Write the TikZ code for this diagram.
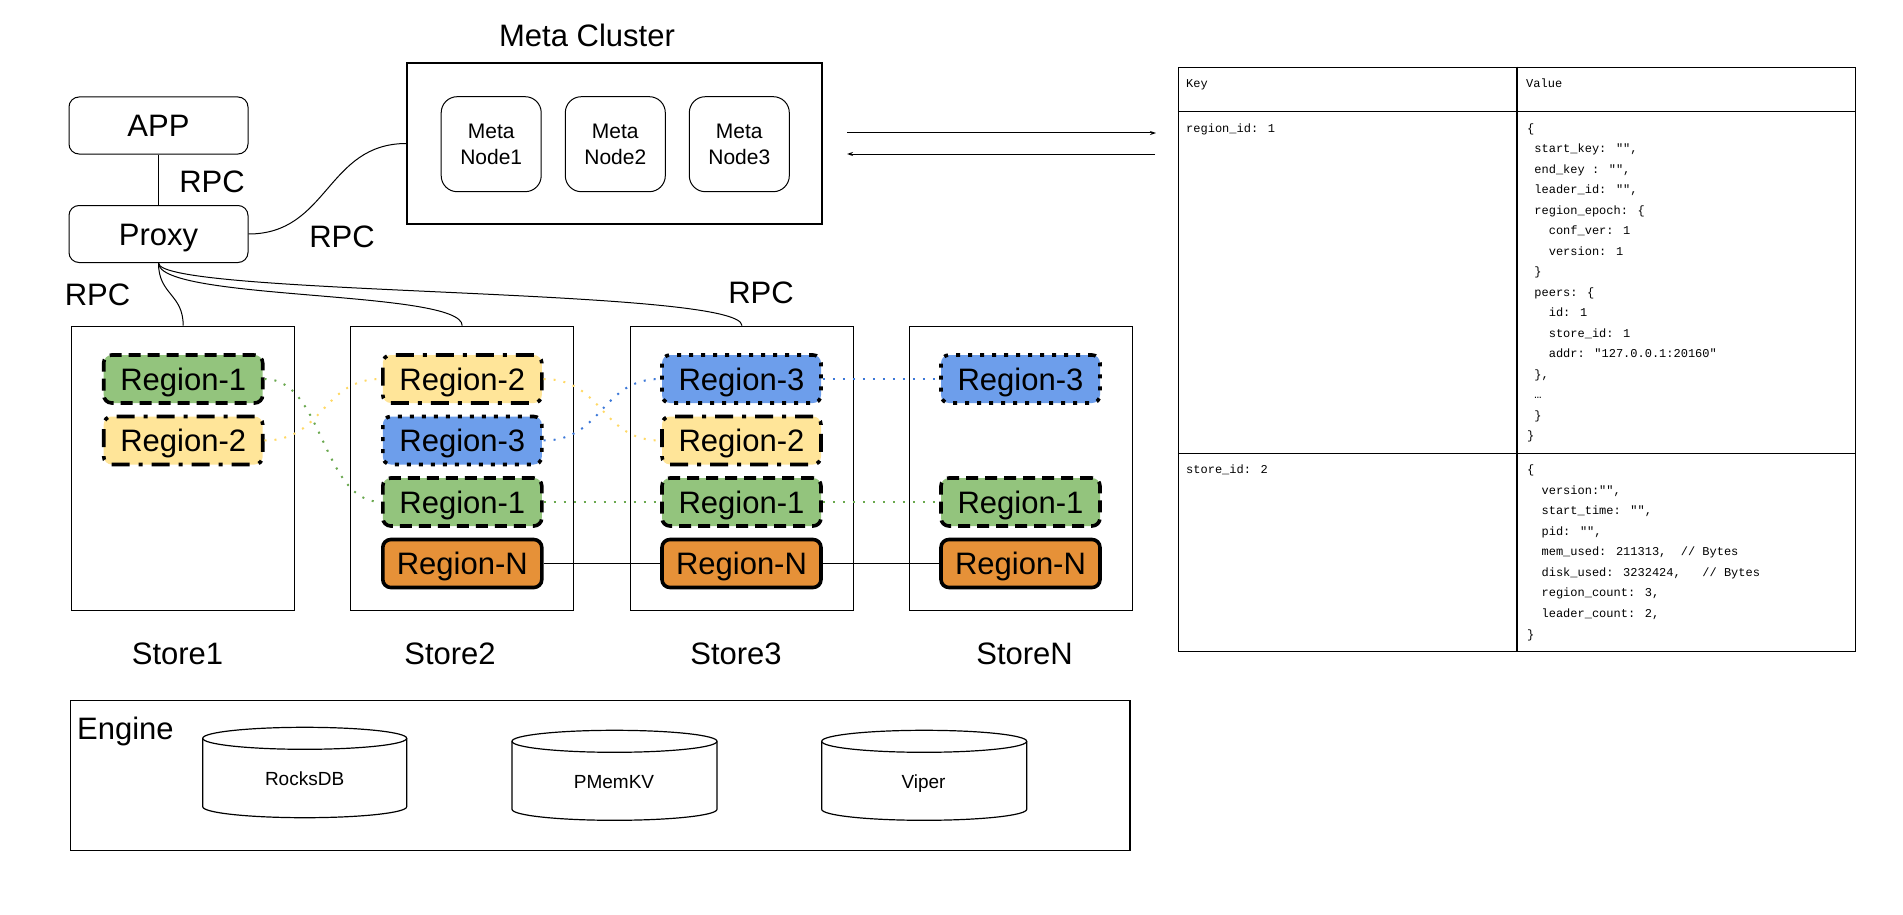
\documentclass[tikz,border=0pt]{standalone}
\usepackage{fontspec}
\setmainfont{Liberation Sans}
\newfontfamily\tblfont{Liberation Mono}
\usetikzlibrary{arrows.meta}
\definecolor{gfill}{HTML}{93C47D}
\definecolor{yfill}{HTML}{FFE599}
\definecolor{bfill}{HTML}{6D9EEB}
\definecolor{ofill}{HTML}{E69138}
\definecolor{gline}{HTML}{6AA84F}
\definecolor{yline}{HTML}{FFD966}
\definecolor{bline}{HTML}{3C78D8}
\newcommand\ind[1]{\hspace*{\dimexpr7.2pt*#1\relax}}
\begin{document}
\begin{tikzpicture}[x=1pt,y=-1pt,
  big/.style={font=\fontsize{31}{37}\selectfont},
  lbl/.style={big, inner sep=0pt},
  box/.style={draw, line width=1pt, rounded corners=10pt, minimum width=179pt, minimum height=57pt, inner sep=0pt, big, text height=22pt, text depth=0pt},
  plain/.style={draw, line width=1.1pt, inner sep=0pt},
  mnode/.style={draw, line width=1pt, rounded corners=16pt, minimum width=100pt, minimum height=95pt, inner sep=0pt, align=center, font=\fontsize{21}{26}\selectfont},
  conn/.style={draw, line width=1pt},
  reg/.style={draw=black, line width=3.6pt, rounded corners=8pt, minimum width=159pt, minimum height=48pt, inner sep=0pt, big, text height=22pt, text depth=0pt},
  rone/.style={reg, fill=gfill, dash pattern=on 12pt off 7pt},
  rtwo/.style={reg, fill=yfill, dash pattern=on 18pt off 9pt on 4pt off 9pt},
  rthree/.style={reg, fill=bfill, dash pattern=on 4pt off 8pt},
  rnn/.style={reg, fill=ofill},
  gdot/.style={draw=gline, line width=2pt, dash pattern=on 2pt off 8pt},
  ydot/.style={draw=yline, line width=2pt, dash pattern=on 2pt off 8pt},
  bdot/.style={draw=bline, line width=2pt, dash pattern=on 2pt off 8pt},
  cyl/.style={draw, line width=1.2pt},
  cyllbl/.style={inner sep=0pt, font=\fontsize{19}{23}\selectfont},
  tt/.style={inner sep=0pt, font=\tblfont\fontsize{12}{14}\selectfont},
  tline/.style={draw, line width=1.3pt}
]
\useasboundingbox (0,0) rectangle (1903,915);

% APP / Proxy
\node[box] (app) at (158.5,125.5) {APP};
\node[box] (proxy) at (158.5,234) {Proxy};
\draw[conn] (app) -- (proxy);
\node[lbl, anchor=base] (rpca) at (212,192) {RPC};
\node[lbl, anchor=base] (rpcb) at (342,247) {RPC};
\node[lbl, anchor=base] (rpcc) at (97.5,305) {RPC};
\node[lbl, anchor=base] (rpcd) at (761,303) {RPC};

% Meta cluster
\node[plain, minimum width=415pt, minimum height=161pt] (meta) at (614.5,143.5) {};
\node[lbl, anchor=base] (mtitle) at (587,46.5) {Meta Cluster};
\node[mnode] (m1) at (491.2,144.2) {Meta\\Node1};
\node[mnode] (m2) at (615.3,144.2) {Meta\\Node2};
\node[mnode] (m3) at (739.3,144.2) {Meta\\Node3};
\draw[conn] (proxy.east) .. controls +(80,0) and +(-80,0) .. (meta.west);

% arrows to table
\coordinate (aa) at (847,133);
\coordinate (ab) at (1156,133);
\coordinate (ac) at (1155,154);
\coordinate (ad) at (847,154);
\draw[conn, -{Stealth[length=6pt,width=4pt]}] (aa) -- (ab);
\draw[conn, -{Stealth[length=6pt,width=4pt]}] (ac) -- (ad);

% stores
\node[plain, minimum width=223pt, minimum height=284pt] (s1) at (183.2,468.2) {};
\node[plain, minimum width=223pt, minimum height=284pt] (s2) at (462.2,468.2) {};
\node[plain, minimum width=223pt, minimum height=284pt] (s3) at (742,468.2) {};
\node[plain, minimum width=223pt, minimum height=284pt] (sn) at (1021,468.2) {};
\node[lbl, anchor=base] (l1) at (177.5,664) {Store1};
\node[lbl, anchor=base] (l2) at (450,664) {Store2};
\node[lbl, anchor=base] (l3) at (736,664) {Store3};
\node[lbl, anchor=base] (ln) at (1024.6,664) {StoreN};

\draw[conn] (proxy.south) .. controls +(0,32) and +(0,-32) .. (s1.north);
\draw[conn] (proxy.south) .. controls +(0,38) and +(0,-36) .. (s2.north);
\draw[conn] (proxy.south) .. controls +(0,33) and +(0,-38) .. (s3.north);

% regions
\node[rone] (s1r1) at (183.2,379) {Region-1};
\node[rtwo] (s1r2) at (183.2,440.5) {Region-2};
\node[rtwo] (s2r2) at (462.3,379) {Region-2};
\node[rthree] (s2r3) at (462.3,440.5) {Region-3};
\node[rone] (s2r1) at (462.3,502) {Region-1};
\node[rnn] (s2rn) at (462.3,563.5) {Region-N};
\node[rthree] (s3r3) at (741.5,379) {Region-3};
\node[rtwo] (s3r2) at (741.5,440.5) {Region-2};
\node[rone] (s3r1) at (741.5,502) {Region-1};
\node[rnn] (s3rn) at (741.5,563.5) {Region-N};
\node[rthree] (snr3) at (1020.5,379) {Region-3};
\node[rone] (snr1) at (1020.5,502) {Region-1};
\node[rnn] (snrn) at (1020.5,563.5) {Region-N};

\draw[gdot] (s1r1.east) .. controls +(59,0) and +(-59,0) .. (s2r1.west);
\draw[gdot] (s2r1.east) -- (s3r1.west);
\draw[gdot] (s3r1.east) -- (snr1.west);
\draw[ydot] (s1r2.east) .. controls +(59,0) and +(-59,0) .. (s2r2.west);
\draw[ydot] (s2r2.east) .. controls +(59,0) and +(-59,0) .. (s3r2.west);
\draw[bdot] (s2r3.east) .. controls +(59,0) and +(-59,0) .. (s3r3.west);
\draw[bdot] (s3r3.east) -- (snr3.west);
\draw[conn] (s2rn.east) -- (s3rn.west);
\draw[conn] (s3rn.east) -- (snrn.west);

% engine
\node[plain, minimum width=1059.6pt, minimum height=150pt] (engine) at (600.2,775.3) {};
\node[lbl, anchor=base west] (englbl) at (77,739) {Engine};
\draw[cyl] (202.7,738.3) -- (202.7,806.7) arc[start angle=180, end angle=360, x radius=102pt, y radius=11pt] -- (406.7,738.3);
\draw[cyl] (304.7,738.3) ellipse[x radius=102pt, y radius=11pt];
\draw[cyl] (512,741.3) -- (512,809.3) arc[start angle=180, end angle=360, x radius=102.5pt, y radius=11pt] -- (717,741.3);
\draw[cyl] (614.5,741.3) ellipse[x radius=102.5pt, y radius=11pt];
\draw[cyl] (821.7,741.3) -- (821.7,809.3) arc[start angle=180, end angle=360, x radius=102.5pt, y radius=11pt] -- (1026.7,741.3);
\draw[cyl] (924.2,741.3) ellipse[x radius=102.5pt, y radius=11pt];
\node[cyllbl, anchor=base] (rocks) at (304.6,785.5) {RocksDB};
\node[cyllbl, anchor=base] (pmem) at (614,788) {PMemKV};
\node[cyllbl, anchor=base] (viper) at (923.5,788) {Viper};

% table
\node[draw, line width=1.3pt, minimum width=677.2pt, minimum height=584pt, inner sep=0pt] (tbl) at (1517.1,359.3) {};
\coordinate (ha) at (0,111.3);
\coordinate (hb) at (0,453.3);
\draw[tline] (tbl.north) -- (tbl.south);
\draw[tline] (tbl.west |- ha) -- (tbl.east |- ha);
\draw[tline] (tbl.west |- hb) -- (tbl.east |- hb);
\node[tt, anchor=base west] (tkey) at (1186,87.5) {Key};
\node[tt, anchor=base west] (tval) at (1526,87.5) {Value};
\node[tt, anchor=base west] (k1) at (1186,132) {region\_id: 1};
\node[tt, anchor=base west] (k2) at (1186,473.7) {store\_id: 2};
\foreach \t [count=\i from 0] in {{\{},{\ind{1}start\_key: "",},{\ind{1}end\_key : "",},{\ind{1}leader\_id: "",},{\ind{1}region\_epoch: \{},{\ind{3}conf\_ver: 1},{\ind{3}version: 1},{\ind{1}\}},{\ind{1}peers: \{},{\ind{3}id: 1},{\ind{3}store\_id: 1},{\ind{3}addr: "127.0.0.1:20160"},{\ind{1}\},},{\ind{1}…},{\ind{1}\}},{\}}}
  \node[tt, anchor=base west] (va-\i) at (1527,{132+20.5*\i}) {\t};
\foreach \t [count=\i from 0] in {{\{},{\ind{2}version:"",},{\ind{2}start\_time: "",},{\ind{2}pid: "",},{\ind{2}mem\_used: 211313,\ind{2}// Bytes},{\ind{2}disk\_used: 3232424,\ind{3}// Bytes},{\ind{2}region\_count: 3,},{\ind{2}leader\_count: 2,},{\}}}
  \node[tt, anchor=base west] (vb-\i) at (1527,{473.7+20.54*\i}) {\t};
\end{tikzpicture}
\end{document}
